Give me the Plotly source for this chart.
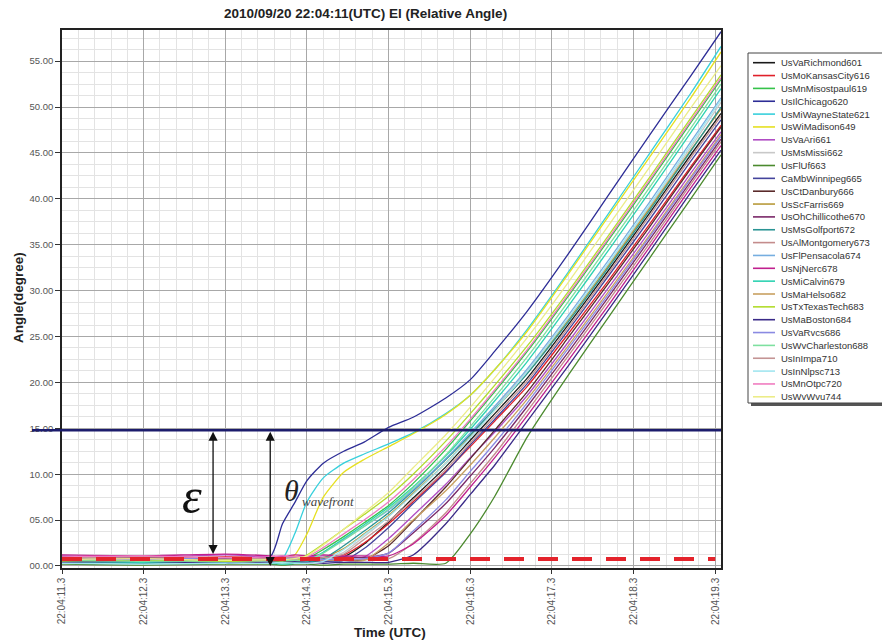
import plotly.graph_objects as go

# ---------------- data ----------------
time_s = [11.3, 12.3, 13.3, 13.85, 14.0, 14.15, 14.3, 14.5, 14.75, 15.0, 15.3,
          15.6, 16.0, 16.3, 16.6, 17.0, 17.5, 18.0, 18.5, 19.0, 19.37]

station_names = ["UsVaRichmond601", "UsMoKansasCity616", "UsMnMisostpaul619", "UsIlChicago620",
                 "UsMiWayneState621", "UsWiMadison649", "UsVaAri661", "UsMsMissi662", "UsFlUf663",
                 "CaMbWinnipeg665", "UsCtDanbury666", "UsScFarris669", "UsOhChillicothe670",
                 "UsMsGolfport672", "UsAlMontgomery673", "UsFlPensacola674", "UsNjNerc678",
                 "UsMiCalvin679", "UsMaHelso682", "UsTxTexasTech683", "UsMaBoston684",
                 "UsVaRvcs686", "UsWvCharleston688", "UsInImpa710", "UsInNlpsc713",
                 "UsMnOtpc720", "UsWvWvu744"]

station_colors = ["#1a1a1a", "#e0202a", "#35c24a", "#2d2d96", "#38d0dc", "#e6e020", "#b04cc4",
                  "#c8c8c8", "#4b8a2e", "#44449c", "#5a2a2a", "#b89a3a", "#7a2868", "#2a9494",
                  "#c48c8c", "#76aee0", "#c0208e", "#2ed2b2", "#c8a060", "#b2dc2c", "#3a2a88",
                  "#8a8ae2", "#7ee0a0", "#c49494", "#a2e6f0", "#f07cc0", "#ecec88"]

el_601 = [0.6, 0.7, 0.5, 0.6, 0.5, 0.6, 0.7, 0.6, 1.0, 2.4, 4.8, 7.4, 10.8, 13.7, 16.6, 20.5, 26.3, 32.3, 38.5, 44.8, 49.3]
el_616 = [1.0, 0.8, 1.0, 0.9, 0.8, 0.9, 1.0, 0.9, 1.2, 2.5, 4.6, 7.0, 10.3, 13.0, 15.8, 19.6, 25.3, 31.2, 37.3, 43.5, 48.0]
el_619 = [0.4, 0.5, 0.4, 0.4, 0.4, 0.5, 0.8, 1.8, 3.2, 4.7, 6.6, 9.0, 12.7, 15.8, 19.0, 23.4, 29.4, 35.6, 41.9, 48.3, 53.0]
el_620 = [0.6, 0.5, 0.6, 1.0, 4.6, 6.9, 9.3, 11.2, 12.5, 13.5, 15.1, 16.2, 18.3, 20.3, 23.4, 27.8, 34.0, 40.5, 47.0, 53.4, 58.2]
el_621 = [0.5, 0.4, 0.5, 0.5, 0.8, 3.5, 7.0, 9.6, 11.2, 12.2, 13.3, 14.5, 16.6, 18.6, 21.4, 25.8, 32.0, 38.5, 45.0, 51.5, 56.6]
el_649 = [0.8, 0.9, 0.7, 0.7, 0.8, 1.2, 3.5, 7.5, 10.2, 11.6, 13.0, 14.4, 16.5, 18.6, 21.4, 25.6, 31.8, 38.2, 44.6, 51.0, 56.0]
el_661 = [1.1, 0.9, 1.2, 1.0, 1.1, 0.9, 1.0, 1.1, 1.0, 1.0, 3.0, 5.5, 8.9, 11.8, 14.6, 18.6, 24.4, 30.4, 36.5, 42.8, 47.3]
el_662 = [0.7, 0.6, 0.8, 0.7, 0.6, 0.7, 0.7, 0.7, 1.5, 3.2, 5.4, 8.0, 11.6, 14.4, 17.3, 21.3, 27.0, 33.0, 39.2, 45.6, 50.5]
el_663 = [0.2, 0.1, 0.2, 0.2, 0.1, 0.2, 0.2, 0.1, 0.2, 0.2, 0.2, 0.3, 0.3, 3.5, 7.6, 14.1, 20.8, 27.2, 33.6, 40.0, 44.8]
el_665 = [0.5, 0.4, 0.6, 0.5, 0.5, 0.4, 0.5, 0.5, 0.6, 1.9, 4.2, 6.8, 10.2, 13.2, 16.0, 19.9, 25.7, 31.7, 37.8, 44.1, 48.6]
el_666 = [0.6, 0.7, 0.5, 0.6, 0.7, 0.6, 0.5, 0.6, 0.6, 0.7, 2.2, 4.9, 8.6, 11.7, 14.8, 19.0, 24.9, 30.9, 37.0, 43.3, 47.8]
el_669 = [0.8, 0.9, 0.8, 0.7, 0.8, 0.9, 0.8, 0.9, 1.9, 3.5, 5.5, 7.9, 11.2, 14.1, 17.0, 21.0, 26.8, 32.8, 39.0, 45.3, 49.8]
el_670 = [1.0, 0.9, 0.8, 0.9, 1.0, 0.9, 0.8, 0.9, 1.0, 0.9, 1.4, 3.6, 6.8, 9.8, 12.9, 17.4, 23.3, 29.4, 35.6, 41.9, 46.5]
el_672 = [0.4, 0.3, 0.5, 0.4, 0.4, 0.3, 0.4, 0.8, 2.2, 3.8, 5.8, 8.2, 11.6, 14.3, 17.1, 21.0, 26.6, 32.6, 38.8, 45.2, 50.0]
el_673 = [0.7, 0.8, 0.7, 0.6, 0.7, 0.8, 0.7, 0.6, 0.7, 0.7, 0.8, 2.5, 5.8, 9.0, 12.2, 16.9, 22.9, 29.0, 35.2, 41.6, 46.2]
el_674 = [0.5, 0.6, 0.4, 0.5, 0.6, 0.5, 0.5, 1.5, 2.9, 4.3, 6.1, 8.3, 11.7, 14.5, 17.4, 21.5, 27.3, 33.4, 39.7, 46.2, 51.0]
el_678 = [1.2, 1.1, 1.3, 1.1, 1.0, 1.2, 1.1, 1.2, 1.1, 1.1, 1.1, 2.4, 5.5, 8.6, 11.8, 16.4, 22.4, 28.5, 34.8, 41.2, 45.8]
el_679 = [0.3, 0.4, 0.3, 0.3, 0.2, 0.3, 0.5, 1.5, 3.0, 4.5, 6.4, 8.6, 12.0, 14.9, 18.0, 22.3, 28.3, 34.5, 40.8, 47.2, 52.0]
el_682 = [0.6, 0.5, 0.7, 0.6, 0.6, 0.5, 0.6, 0.7, 0.6, 0.6, 2.5, 5.0, 8.2, 11.0, 14.0, 18.2, 24.0, 30.0, 36.1, 42.4, 47.0]
el_683 = [0.5, 0.6, 0.5, 0.4, 0.5, 0.5, 1.2, 2.4, 4.0, 5.6, 7.6, 10.0, 13.6, 16.6, 19.7, 24.0, 29.9, 36.1, 42.4, 48.8, 53.5]
el_684 = [0.4, 0.5, 0.3, 0.4, 0.4, 0.5, 0.4, 0.3, 0.4, 0.4, 0.4, 1.2, 4.6, 7.8, 11.0, 15.8, 21.8, 28.0, 34.3, 40.7, 45.3]
el_686 = [0.8, 0.7, 0.9, 0.8, 0.8, 0.9, 0.8, 0.7, 0.8, 0.8, 1.4, 3.8, 7.2, 10.3, 13.4, 17.8, 23.7, 29.7, 35.9, 42.2, 46.8]
el_688 = [0.6, 0.5, 0.6, 0.7, 0.6, 0.6, 0.6, 1.4, 2.8, 4.3, 6.2, 8.5, 12.1, 15.2, 18.4, 22.8, 28.8, 35.0, 41.3, 47.7, 52.5]
el_710 = [0.9, 1.0, 0.9, 0.8, 0.9, 1.0, 0.9, 0.9, 1.3, 2.9, 4.9, 7.2, 10.5, 13.4, 16.3, 20.2, 26.0, 32.0, 38.2, 44.5, 49.0]
el_713 = [0.3, 0.2, 0.3, 0.3, 0.4, 0.3, 0.3, 0.5, 1.8, 3.4, 5.4, 7.8, 11.2, 14.0, 17.0, 21.2, 27.0, 33.1, 39.4, 45.9, 50.8]
el_720 = [1.0, 1.1, 0.9, 1.0, 1.1, 1.0, 1.0, 2.0, 3.5, 5.0, 7.0, 9.4, 13.0, 16.0, 19.2, 23.6, 29.6, 35.8, 42.1, 48.5, 53.2]
el_744 = [0.7, 0.8, 0.6, 0.7, 0.7, 0.8, 1.1, 2.3, 4.0, 5.8, 8.0, 10.7, 14.3, 17.3, 20.5, 24.9, 30.9, 37.2, 43.5, 49.9, 54.5]

angle_series = [el_601, el_616, el_619, el_620, el_621, el_649, el_661, el_662, el_663, el_665,
                el_666, el_669, el_670, el_672, el_673, el_674, el_678, el_679, el_682, el_683,
                el_684, el_686, el_688, el_710, el_713, el_720, el_744]

x_tickvals = [11.3, 12.3, 13.3, 14.3, 15.3, 16.3, 17.3, 18.3, 19.3]
x_ticktext = ["22:04:11.3", "22:04:12.3", "22:04:13.3", "22:04:14.3", "22:04:15.3",
              "22:04:16.3", "22:04:17.3", "22:04:18.3", "22:04:19.3"]
y_tickvals = [0, 5, 10, 15, 20, 25, 30, 35, 40, 45, 50, 55]
y_ticktext = ["00.00", "05.00", "10.00", "15.00", "20.00", "25.00", "30.00", "35.00",
              "40.00", "45.00", "50.00", "55.00"]

threshold_angle = 14.8        # wavefront threshold (navy line)
noise_level = 0.75            # red dashed noise level
noise_span = [11.3, 19.3]
eps_time = 13.15              # epsilon arrow
eps_range = [1.3, 14.8]
theta_time = 13.85            # theta arrow
theta_range = [0.0, 14.8]

title_text = "2010/09/20 22:04:11(UTC) El (Relative Angle)"

# ---------------- layout helpers ----------------
W, H = 882, 640
ML, MR, MT, MB = 62, 161, 30, 72
PW, PH = W - ML - MR, H - MT - MB


def px_x(p):
    return (p - ML) / PW


def px_y(p):
    return (H - MB - p) / PH


FONT = "Liberation Sans, Arial, sans-serif"
SERIF = "Liberation Serif, Times New Roman, serif"

fig = go.Figure()

for name, color, vals in zip(station_names, station_colors, angle_series):
    fig.add_trace(go.Scatter(x=time_s, y=vals, mode="lines", name=name,
                             line=dict(color=color, width=1.3, shape="spline", smoothing=0.6),
                             showlegend=False, hoverinfo="skip"))

fig.add_trace(go.Scatter(x=noise_span, y=[noise_level, noise_level], mode="lines",
                         line=dict(color="#e4232b", width=4, dash="20px,14px"),
                         showlegend=False, hoverinfo="skip"))

shapes = []
shapes.append(dict(type="line", xref="paper", yref="y", x0=px_x(32), x1=1.0,
                   y0=threshold_angle, y1=threshold_angle,
                   line=dict(color="#1c1c6c", width=2.5), layer="above"))

# manual legend box with shadow
lx0, lx1, ly0, ly1 = 748, 900, 53, 403
shapes.append(dict(type="rect", xref="paper", yref="paper",
                   x0=px_x(lx0 + 3), x1=px_x(lx1 + 3), y0=px_y(ly1 + 3), y1=px_y(ly0 + 3),
                   line=dict(width=0), fillcolor="#555555", layer="above"))
shapes.append(dict(type="rect", xref="paper", yref="paper",
                   x0=px_x(lx0), x1=px_x(lx1), y0=px_y(ly1), y1=px_y(ly0),
                   line=dict(color="#444444", width=1), fillcolor="white", layer="above"))

annotations = []
for i, (name, color) in enumerate(zip(station_names, station_colors)):
    yy = 62.7 + i * 12.85
    shapes.append(dict(type="line", xref="paper", yref="paper",
                       x0=px_x(753), x1=px_x(775), y0=px_y(yy), y1=px_y(yy),
                       line=dict(color=color, width=1.6), layer="above"))
    annotations.append(dict(xref="paper", yref="paper", x=px_x(779), y=px_y(yy),
                            text=name, showarrow=False, xanchor="left", yanchor="middle",
                            font=dict(family=FONT, size=9.5, color="#333333")))

# arrows
for t_arrow, rng in ((eps_time, eps_range), (theta_time, theta_range)):
    annotations.append(dict(x=t_arrow, y=rng[0], ax=t_arrow, ay=rng[1],
                            xref="x", yref="y", axref="x", ayref="y", text="", showarrow=True,
                            arrowhead=2, startarrowhead=2, arrowside="end+start",
                            arrowsize=1.4, startarrowsize=1.4, arrowwidth=1.3,
                            arrowcolor="#111111", standoff=0, startstandoff=0))

# symbols
annotations.append(dict(x=12.89, y=7.6, xref="x", yref="y", text="<i>ε</i>", showarrow=False,
                        font=dict(family=SERIF, size=50, color="#111111")))
annotations.append(dict(x=14.115, y=8.2, xref="x", yref="y", text="<i>θ</i>", showarrow=False,
                        font=dict(family=SERIF, size=30, color="#222222")))
annotations.append(dict(x=14.22, y=7.0, xref="x", yref="y", text="<i>wavefront</i>",
                        showarrow=False, xanchor="left",
                        font=dict(family=SERIF, size=13, color="#444444")))

# titles
annotations.append(dict(xref="paper", yref="paper", x=px_x(365), y=px_y(14),
                        text="<b>" + title_text + "</b>",
                        showarrow=False, xanchor="center", yanchor="middle",
                        font=dict(family=FONT, size=13.5, color="#222222")))
annotations.append(dict(xref="paper", yref="paper", x=px_x(390), y=px_y(632), text="<b>Time (UTC)</b>",
                        showarrow=False, xanchor="center", yanchor="middle",
                        font=dict(family=FONT, size=13.5, color="#222222")))
annotations.append(dict(xref="paper", yref="paper", x=px_x(18), y=px_y(298), text="<b>Angle(degree)</b>",
                        showarrow=False, xanchor="center", yanchor="middle", textangle=-90,
                        font=dict(family=FONT, size=13.5, color="#222222")))

fig.update_layout(
    width=W, height=H,
    margin=dict(l=ML, r=MR, t=MT, b=MB, autoexpand=False),
    paper_bgcolor="white", plot_bgcolor="white",
    showlegend=False,
    shapes=shapes, annotations=annotations,
    xaxis=dict(range=[11.3, 19.37], tickmode="array", tickvals=x_tickvals, ticktext=x_ticktext,
               tickangle=-90, ticks="outside", ticklen=4, tickcolor="#333333",
               tickfont=dict(family=FONT, size=10, color="#555555"),
               showgrid=True, gridcolor="#a8a8a8", gridwidth=1, zeroline=False,
               showline=True, mirror=True, linecolor="#222222", linewidth=1.6,
               minor=dict(tickmode="linear", tick0=11.3, dtick=0.2, showgrid=True,
                          gridcolor="#e3e3e3", gridwidth=1, ticks="")),
    yaxis=dict(range=[-0.22, 58.39], tickmode="array", tickvals=y_tickvals, ticktext=y_ticktext,
               ticks="outside", ticklen=5, tickcolor="#333333",
               tickfont=dict(family=FONT, size=9.5, color="#555555"),
               showgrid=True, gridcolor="#a8a8a8", gridwidth=1, zeroline=False,
               showline=True, mirror=True, linecolor="#222222", linewidth=1.6,
               minor=dict(tickmode="linear", tick0=0, dtick=1.25, showgrid=True,
                          gridcolor="#e3e3e3", gridwidth=1, ticks="")),
)

fig.write_html("out.html")
